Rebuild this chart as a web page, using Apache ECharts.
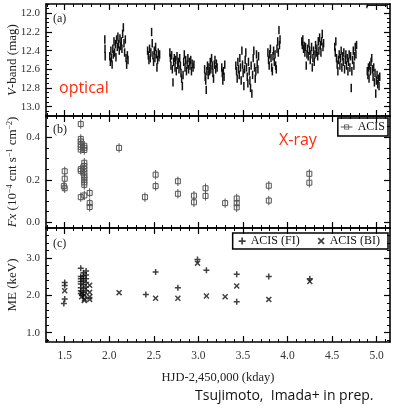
<!DOCTYPE html>
<html>
<head>
<meta charset="utf-8">
<script src="https://cdn.jsdelivr.net/npm/echarts@6/dist/echarts.min.js"></script>
<style>
html, body { margin: 0; padding: 0; background: #fff; }
#chart { width: 395px; height: 412px; }
</style>
</head>
<body>
<div id="chart"></div>
<script>
// axis ticks
const xTickLabels = [1.5, 2.0, 2.5, 3.0, 3.5, 4.0, 4.5, 5.0]
const vTickLabels = [12.0, 12.2, 12.4, 12.6, 12.8, 13.0]
const fxTickLabels = [0.0, 0.2, 0.4]
const meTickLabels = [1.0, 2.0, 3.0]

// (a) optical V-band, one array per observing season [kday, mag]
const optSeason1 = [[1.950, 12.28], [1.952, 12.38], [1.954, 12.46], [2.005, 12.46], [2.012, 12.52], [2.018, 12.40], [2.025, 12.48], [2.032, 12.55], [2.040, 12.38], [2.046, 12.44], [2.053, 12.30], [2.060, 12.42], [2.068, 12.33], [2.075, 12.47], [2.082, 12.28], [2.090, 12.36], [2.097, 12.25], [2.105, 12.33], [2.112, 12.40], [2.120, 12.27], [2.128, 12.35], [2.135, 12.30], [2.142, 12.38], [2.150, 12.22], [2.158, 12.15], [2.165, 12.32], [2.172, 12.42], [2.180, 12.28], [2.188, 12.48], [2.195, 12.55], [2.203, 12.45], [2.210, 12.50]]
const optSeason2 = [[2.430, 12.40], [2.438, 12.45], [2.445, 12.50], [2.452, 12.38], [2.460, 12.48], [2.467, 12.42], [2.475, 12.20], [2.482, 12.32], [2.490, 12.45], [2.497, 12.52], [2.505, 12.40], [2.512, 12.48], [2.520, 12.36], [2.527, 12.44], [2.535, 12.58], [2.542, 12.50], [2.550, 12.42], [2.557, 12.47], [2.565, 12.44]]
const optSeason3 = [[2.680, 12.42], [2.686, 12.48], [2.692, 12.56], [2.700, 12.45], [2.708, 12.60], [2.715, 12.74], [2.722, 12.52], [2.730, 12.48], [2.738, 12.58], [2.745, 12.50], [2.752, 12.62], [2.760, 12.46], [2.768, 12.55], [2.775, 12.52], [2.782, 12.60], [2.790, 12.48], [2.798, 12.56], [2.805, 12.64], [2.812, 12.70], [2.820, 12.78], [2.828, 12.66], [2.835, 12.52], [2.842, 12.44], [2.850, 12.58], [2.858, 12.50], [2.866, 12.62], [2.874, 12.55], [2.882, 12.48], [2.890, 12.60], [2.898, 12.52], [2.906, 12.56], [2.914, 12.50], [2.922, 12.62], [2.930, 12.54], [2.940, 12.58], [2.950, 12.55]]
const optSeason4 = [[3.070, 12.60], [3.076, 12.68], [3.082, 12.72], [3.088, 12.82], [3.095, 12.62], [3.102, 12.56], [3.110, 12.66], [3.118, 12.58], [3.125, 12.62], [3.133, 12.52], [3.140, 12.60], [3.148, 12.48], [3.155, 12.56], [3.163, 12.64], [3.170, 12.70], [3.178, 12.55], [3.186, 12.50], [3.194, 12.60], [3.202, 12.54], [3.210, 12.58], [3.262, 12.58], [3.268, 12.64], [3.274, 12.72], [3.280, 12.62], [3.288, 12.68], [3.296, 12.55]]
const optSeason5 = [[3.420, 12.56], [3.428, 12.62], [3.435, 12.70], [3.443, 12.52], [3.450, 12.60], [3.458, 12.66], [3.465, 12.48], [3.472, 12.58], [3.480, 12.72], [3.488, 12.40], [3.495, 12.55], [3.502, 12.64], [3.510, 12.78], [3.518, 12.60], [3.525, 12.50], [3.532, 12.42], [3.540, 12.58], [3.548, 12.68], [3.555, 12.75], [3.562, 12.52], [3.570, 12.62], [3.578, 12.72], [3.585, 12.80], [3.592, 12.56], [3.600, 12.86], [3.608, 12.66], [3.615, 12.48], [3.622, 12.40], [3.630, 12.58], [3.638, 12.70], [3.645, 12.62], [3.652, 12.44], [3.660, 12.54], [3.668, 12.60], [3.675, 12.46]]
const optSeason6 = [[3.780, 12.42], [3.787, 12.50], [3.794, 12.56], [3.800, 12.44], [3.808, 12.38], [3.815, 12.48], [3.822, 12.58], [3.830, 12.62], [3.837, 12.46], [3.844, 12.40], [3.852, 12.52], [3.860, 12.44], [3.867, 12.56], [3.874, 12.60], [3.882, 12.38], [3.890, 12.30], [3.897, 12.42], [3.904, 12.18], [3.910, 12.34], [3.916, 12.28]]
const optSeason7 = [[4.160, 12.30], [4.166, 12.34], [4.172, 12.28], [4.180, 12.38], [4.187, 12.35], [4.195, 12.42], [4.202, 12.36], [4.210, 12.56], [4.218, 12.44], [4.225, 12.38], [4.232, 12.46], [4.240, 12.32], [4.248, 12.40], [4.255, 12.50], [4.262, 12.44], [4.270, 12.36], [4.278, 12.58], [4.285, 12.48], [4.292, 12.40], [4.300, 12.52], [4.308, 12.44], [4.315, 12.34], [4.322, 12.42], [4.330, 12.38], [4.338, 12.46], [4.345, 12.30], [4.352, 12.40], [4.360, 12.26], [4.368, 12.34], [4.375, 12.42], [4.382, 12.30], [4.390, 12.22], [4.398, 12.36], [4.405, 12.32]]
const optSeason8 = [[4.530, 12.36], [4.536, 12.42], [4.542, 12.30], [4.550, 12.48], [4.557, 12.55], [4.565, 12.62], [4.572, 12.50], [4.580, 12.44], [4.588, 12.56], [4.595, 12.48], [4.602, 12.40], [4.610, 12.58], [4.618, 12.46], [4.625, 12.52], [4.632, 12.42], [4.640, 12.60], [4.648, 12.50], [4.655, 12.44], [4.662, 12.56], [4.670, 12.48], [4.678, 12.62], [4.685, 12.52], [4.692, 12.44], [4.700, 12.58], [4.708, 12.46], [4.715, 12.80], [4.722, 12.62], [4.730, 12.50], [4.738, 12.40], [4.745, 12.56], [4.752, 12.46], [4.760, 12.36], [4.768, 12.44], [4.775, 12.34]]
const optSeason9 = [[4.895, 12.62], [4.902, 12.66], [4.908, 12.58], [4.915, 12.70], [4.922, 12.56], [4.930, 12.62], [4.937, 12.52], [4.945, 12.48], [4.952, 12.60], [4.960, 12.68], [4.967, 12.58], [4.975, 12.74], [4.982, 12.64], [4.990, 12.86], [4.997, 12.72], [5.005, 12.66], [5.012, 12.76], [5.020, 12.70], [5.027, 12.78], [5.035, 12.68]]
// horizontal bar at top right of (a): [xStart, xEnd, mag]
const binBar = [[4.89, 5.12, 11.914]]

// (b) ACIS X-ray flux [kday, 1e-4 cnt/s/cm2]
const acisFx = [[1.50, 0.240], [1.50, 0.205], [1.49, 0.170], [1.50, 0.160],
    [1.68, 0.462], [1.68, 0.392], [1.68, 0.380], [1.68, 0.365], [1.68, 0.354], [1.68, 0.342], [1.68, 0.250], [1.68, 0.242], [1.68, 0.118],
    [1.72, 0.360], [1.72, 0.350], [1.72, 0.340], [1.72, 0.280], [1.72, 0.265], [1.72, 0.250], [1.72, 0.235], [1.72, 0.220], [1.72, 0.210], [1.72, 0.200], [1.72, 0.188], [1.72, 0.176], [1.72, 0.126],
    [1.78, 0.138], [1.78, 0.090], [1.78, 0.072],
    [2.11, 0.350], [2.40, 0.118], [2.52, 0.224], [2.52, 0.170], [2.77, 0.193], [2.77, 0.134], [2.95, 0.125], [2.95, 0.094],
    [3.08, 0.160], [3.08, 0.124], [3.30, 0.090], [3.43, 0.112], [3.43, 0.090], [3.43, 0.070], [3.79, 0.172], [3.79, 0.102], [4.245, 0.228], [4.245, 0.186]]

// (c) mean energy [kday, keV]
const meFI = [[1.50, 2.34], [1.50, 2.26], [1.50, 1.90], [1.49, 1.78],
    [1.68, 2.72], [1.68, 2.50], [1.68, 2.44], [1.68, 2.37], [1.68, 2.30], [1.68, 2.20], [1.68, 2.12], [1.68, 2.05],
    [1.71, 2.60], [1.71, 2.52], [1.71, 2.45], [1.71, 2.38], [1.71, 2.28], [1.71, 2.18], [1.71, 2.08], [1.71, 2.00],
    [1.74, 2.65], [1.74, 2.54], [1.74, 2.44], [1.74, 2.34], [1.74, 2.22], [1.74, 2.12],
    [2.41, 2.02], [2.52, 2.62], [2.77, 2.20], [2.99, 2.96], [3.09, 2.67], [3.43, 2.56], [3.43, 1.83], [3.79, 2.50], [4.25, 2.44]]
const meBI = [[1.50, 2.12],
    [1.69, 2.05], [1.69, 1.96], [1.72, 1.90], [1.72, 1.86], [1.72, 2.00],
    [1.78, 2.27], [1.78, 2.08], [1.78, 1.96], [1.78, 1.89],
    [2.11, 2.07], [2.52, 1.92], [2.77, 1.92], [2.99, 2.86], [3.09, 1.98], [3.30, 1.96], [3.43, 2.25], [3.79, 1.89], [4.25, 2.37]]

;(function () {
    const serif = 'Liberation Serif'
    const xMin = 1.29, xMax = 5.15

    function steps(from, to, step) {
        let out = []
        for (let i = 0; from + i * step <= to + 1e-9; i++) out.push(+(from + i * step).toFixed(3))
        return out
    }
    const xMinor = steps(1.3, 5.1, 0.1)

    const panels = [
        { top: 4, height: 112, min: 11.9, max: 13.1, inverse: true, labels: vTickLabels, minor: steps(11.9, 13.1, 0.05),
          name: '{i|V}{n|-band (mag)}' },
        { top: 116, height: 112, min: -0.027, max: 0.5, inverse: false, labels: fxTickLabels, minor: steps(0, 0.5, 0.05),
          name: '{i|Fx}{n| (10}{s|−4}{n| cnt s}{s|−1}{n| cm}{s|−2}{n|)}' },
        { top: 228, height: 114, min: 0.75, max: 3.8, inverse: false, labels: meTickLabels, minor: steps(0.8, 3.8, 0.2),
          name: '{n|ME (keV)}' }
    ]
    const nameRich = {
        n: { fontFamily: serif, fontSize: 13, color: '#222', lineHeight: 13, verticalAlign: 'bottom' },
        i: { fontFamily: serif, fontSize: 13, color: '#222', fontStyle: 'italic', lineHeight: 13, verticalAlign: 'bottom' },
        s: { fontFamily: serif, fontSize: 8, color: '#222', lineHeight: 8, verticalAlign: 'top' }
    }

    let grids = [], xAxes = [], yAxes = []
    panels.forEach(function (p, gi) {
        grids.push({ left: 46, width: 344, top: p.top, height: p.height, outerBoundsMode: 'none', containLabel: false })
        const last = gi === panels.length - 1
        ;['bottom', 'top'].forEach(function (pos) {
            const withLabels = last && pos === 'bottom'
            xAxes.push({
                type: 'value', gridIndex: gi, min: xMin, max: xMax, position: pos, splitLine: { show: false },
                axisLine: { show: true, onZero: false, lineStyle: { color: '#000', width: 1.6 } },
                axisTick: { show: true, inside: true, length: 6, customValues: xTickLabels, lineStyle: { color: '#000', width: 1.2 } },
                axisLabel: withLabels
                    ? { show: true, customValues: xTickLabels, margin: 8, fontFamily: serif, fontSize: 11.5, color: '#333', formatter: v => v.toFixed(1) }
                    : { show: false },
                name: withLabels ? 'HJD-2,450,000 (kday)' : '',
                nameLocation: 'middle', nameGap: 29, nameMoveOverlap: false,
                nameTextStyle: { fontFamily: serif, fontSize: 12.5, color: '#222' }
            })
            xAxes.push({
                type: 'value', gridIndex: gi, min: xMin, max: xMax, position: pos, splitLine: { show: false },
                axisLine: { show: false, onZero: false },
                axisTick: { show: true, inside: true, length: 3, customValues: xMinor, lineStyle: { color: '#000', width: 1 } },
                axisLabel: { show: false }
            })
        })
        ;['left', 'right'].forEach(function (pos) {
            const withLabels = pos === 'left'
            yAxes.push({
                type: 'value', gridIndex: gi, min: p.min, max: p.max, inverse: p.inverse, position: pos, splitLine: { show: false },
                axisLine: { show: true, onZero: false, lineStyle: { color: '#000', width: 1.6 } },
                axisTick: { show: true, inside: true, length: 6, customValues: p.labels, lineStyle: { color: '#000', width: 1.2 } },
                axisLabel: withLabels
                    ? { show: true, customValues: p.labels, margin: 6, fontFamily: serif, fontSize: 11, color: '#333', formatter: v => v.toFixed(1) }
                    : { show: false },
                name: withLabels ? p.name : '',
                nameLocation: 'middle', nameGap: 27, nameMoveOverlap: false,
                nameTextStyle: { rich: nameRich }
            })
            yAxes.push({
                type: 'value', gridIndex: gi, min: p.min, max: p.max, inverse: p.inverse, position: pos, splitLine: { show: false },
                axisLine: { show: false, onZero: false },
                axisTick: { show: true, inside: true, length: 3, customValues: p.minor, lineStyle: { color: '#000', width: 1 } },
                axisLabel: { show: false }
            })
        })
    })

    const vErr = 0.045
    const fxErr = 0.022
    const optical = [].concat(optSeason1, optSeason2, optSeason3, optSeason4, optSeason5,
        optSeason6, optSeason7, optSeason8, optSeason9).map(d => [d[0], d[1], vErr])

    const plusPath = 'path://M3,0H5V3H8V5H5V8H3V5H0V3H3Z'
    const crossPath = 'path://M0,1.4L1.4,0L4,2.6L6.6,0L8,1.4L5.4,4L8,6.6L6.6,8L4,5.4L1.4,8L0,6.6L2.6,4Z'
    const boxIcon = 'path://M0,2.5H4V0H10V2.5H14V3.5H10V6H4V3.5H0Z M5,1V5H9V1Z M5,2.5H9V3.5H5Z'

    let myChart = echarts.init(document.getElementById('chart'), null, { renderer: 'canvas' })
    let option = {
        backgroundColor: '#fff',
        animation: false,
        grid: grids,
        xAxis: xAxes,
        yAxis: yAxes,
        legend: [
            {
                right: 7, top: 118, selectedMode: false,
                data: [{ name: 'ACIS', icon: boxIcon }],
                itemWidth: 12, itemHeight: 5, itemGap: 4,
                padding: [3, 3, 3, 3], borderColor: '#000', borderWidth: 1.5, borderRadius: 0,
                textStyle: { fontFamily: serif, fontSize: 12, color: '#111' }
            },
            {
                right: 7, top: 233, width: 160, orient: 'horizontal', selectedMode: false,
                data: ['ACIS (FI)', 'ACIS (BI)'],
                itemWidth: 7, itemHeight: 7, itemGap: 18,
                padding: [2, 8, 2, 6], borderColor: '#000', borderWidth: 1.5, borderRadius: 0,
                textStyle: { fontFamily: serif, fontSize: 12, color: '#111' }
            }
        ],
        series: [
            {
                name: 'V-band', type: 'custom', xAxisIndex: 0, yAxisIndex: 0,
                data: optical,
                renderItem: function (params, api) {
                    const x = api.value(0), y = api.value(1), e = api.value(2)
                    const lo = api.coord([x, y - e]), hi = api.coord([x, y + e])
                    return { type: 'line', shape: { x1: lo[0], y1: lo[1], x2: hi[0], y2: hi[1] }, style: { stroke: '#111', lineWidth: 1.5 } }
                }
            },
            {
                name: 'bin', type: 'custom', xAxisIndex: 0, yAxisIndex: 0,
                data: binBar,
                renderItem: function (params, api) {
                    const a = api.coord([api.value(0), api.value(2)]), b = api.coord([api.value(1), api.value(2)])
                    return {
                        type: 'group', children: [
                            { type: 'line', shape: { x1: a[0], y1: a[1], x2: b[0], y2: b[1] }, style: { stroke: '#111', lineWidth: 1.4 } },
                            { type: 'line', shape: { x1: a[0], y1: a[1], x2: a[0], y2: a[1] + 3 }, style: { stroke: '#111', lineWidth: 1.2 } },
                            { type: 'line', shape: { x1: b[0], y1: b[1], x2: b[0], y2: b[1] + 3 }, style: { stroke: '#111', lineWidth: 1.2 } }
                        ]
                    }
                }
            },
            {
                name: 'ACIS', type: 'custom', xAxisIndex: 4, yAxisIndex: 4,
                itemStyle: { color: '#555' },
                data: acisFx.map(d => [d[0], d[1], fxErr]),
                renderItem: function (params, api) {
                    const x = api.value(0), y = api.value(1), e = api.value(2)
                    const c = api.coord([x, y]), lo = api.coord([x, y - e]), hi = api.coord([x, y + e])
                    return {
                        type: 'group', children: [
                            { type: 'line', shape: { x1: c[0], y1: lo[1], x2: c[0], y2: hi[1] }, style: { stroke: '#555', lineWidth: 1 } },
                            { type: 'rect', shape: { x: c[0] - 2.5, y: c[1] - 2.5, width: 5, height: 5 }, style: { fill: 'none', stroke: '#555', lineWidth: 1 } }
                        ]
                    }
                }
            },
            {
                name: 'ACIS (FI)', type: 'scatter', xAxisIndex: 8, yAxisIndex: 8,
                symbol: plusPath, symbolSize: 6,
                itemStyle: { color: '#111' },
                data: meFI
            },
            {
                name: 'ACIS (BI)', type: 'scatter', xAxisIndex: 8, yAxisIndex: 8,
                symbol: crossPath, symbolSize: 6,
                itemStyle: { color: '#111' },
                data: meBI
            }
        ],
        graphic: [
            { type: 'text', left: 53, top: 13, style: { text: '(a)', fontFamily: serif, fontSize: 12, fill: '#222' } },
            { type: 'text', left: 53, top: 124, style: { text: '(b)', fontFamily: serif, fontSize: 12, fill: '#222' } },
            { type: 'text', left: 53, top: 238, style: { text: '(c)', fontFamily: serif, fontSize: 12, fill: '#222' } },
            { type: 'text', left: 59, top: 80, style: { text: 'optical', fontFamily: 'Open Sans', fontSize: 16, fill: '#ff2a0a' } },
            { type: 'text', left: 279, top: 132, style: { text: 'X-ray', fontFamily: 'Open Sans', fontSize: 16, fill: '#ff2a0a' } },
            { type: 'text', left: 195, top: 389, style: { text: 'Tsujimoto,  Imada+ in prep.', fontFamily: 'Open Sans', fontSize: 14, fill: '#111' } }
        ]
    }
    myChart.setOption(option)
})()
</script>
</body>
</html>
